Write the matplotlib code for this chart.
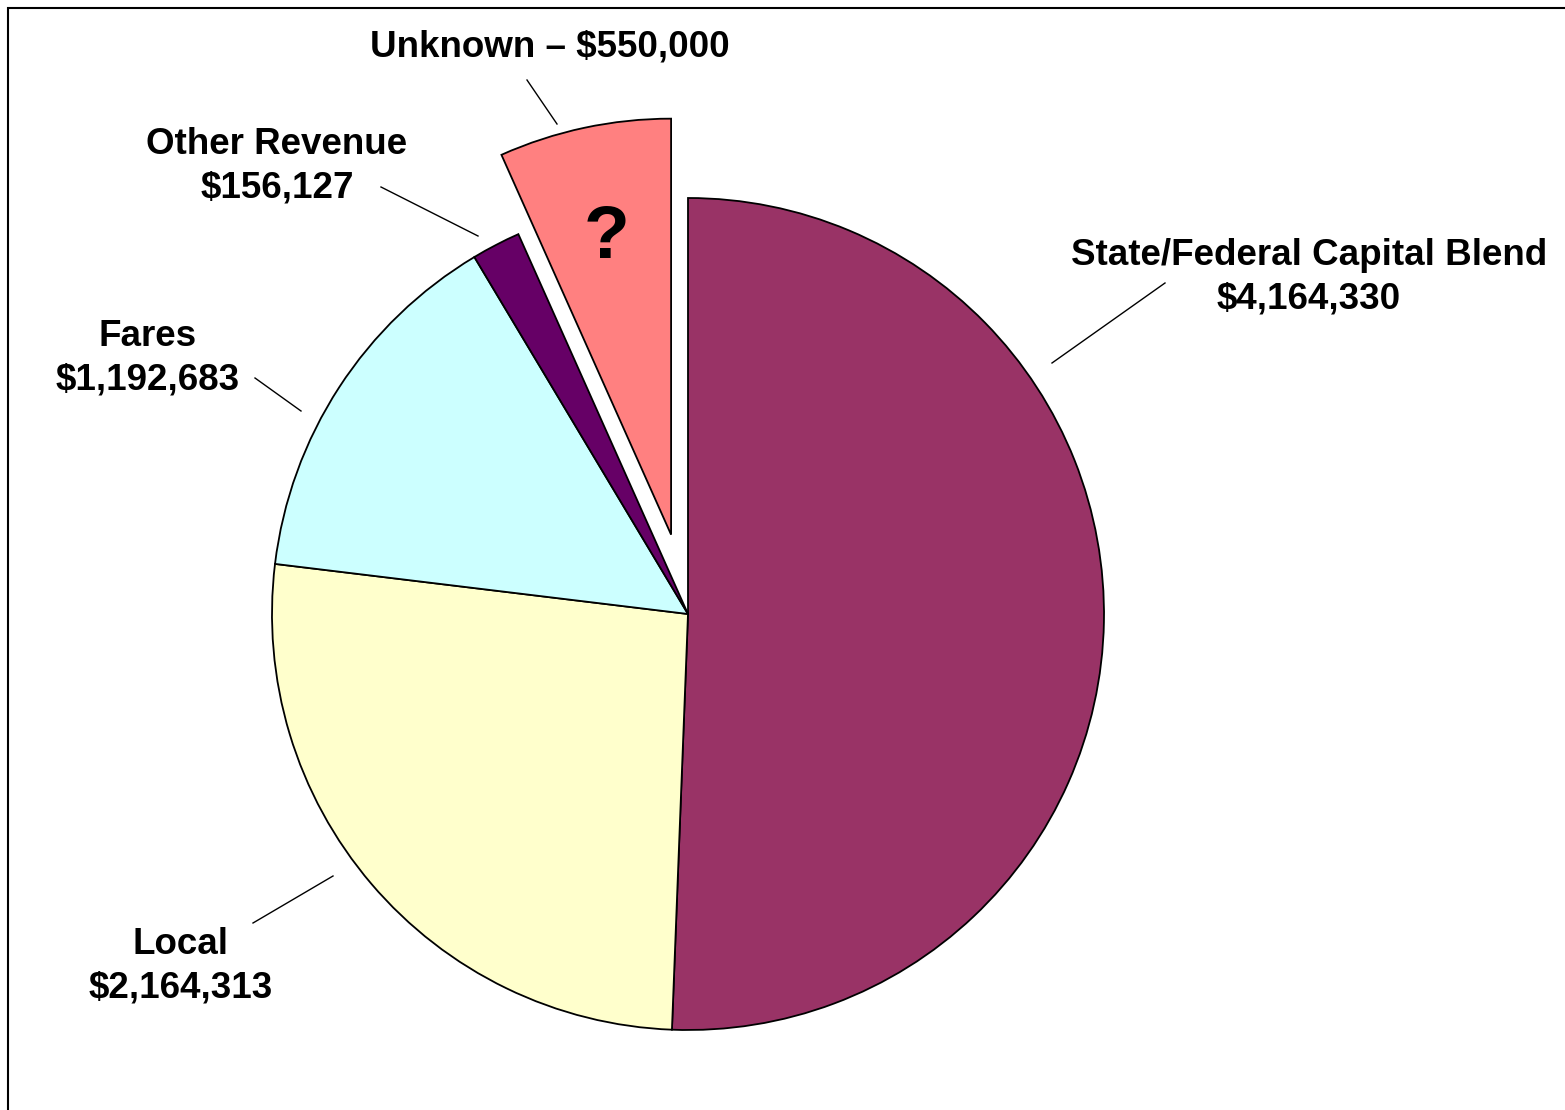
import matplotlib.pyplot as plt
from matplotlib.patches import Rectangle

# Revenue sources (clockwise from 12 o'clock)
categories = ['State/Federal Capital Blend', 'Local', 'Fares', 'Other Revenue', 'Unknown']
amounts = [4164330, 2164313, 1192683, 156127, 550000]
colors = ['#993366', '#FFFFCC', '#CCFFFF', '#660066', '#FF8080']
explode = [0, 0, 0, 0, 0.195]

W, H = 1565, 1110
CX, CY, R = 688, 614, 416  # pie centre / radius in pixels


def px(x, y):
    # pixel position -> data units (1 unit = pie radius)
    return (x - CX) / R, (CY - y) / R


fig = plt.figure(figsize=(W / 100, H / 100), dpi=100)
ax = fig.add_axes([0, 0, 1, 1])
ax.axis('off')

wedges, _ = ax.pie(amounts, colors=colors, explode=explode, startangle=90,
                   counterclock=False, radius=1,
                   wedgeprops=dict(edgecolor='black', linewidth=1.3))
ax.set_xlim(-CX / R, (W - CX) / R)
ax.set_ylim((CY - H) / R, CY / R)

font = dict(family='Liberation Sans', fontweight='bold', fontsize=26.5,
            ha='center', va='center', parse_math=False)

# labels: (text, centre px, leader line px)
labels = [
    ('State/Federal Capital Blend\n$4,164,330', (1309, 277), ((1165, 283), (1052, 363))),
    ('Local\n$2,164,313', (181, 966), ((253, 923), (333, 876))),
    ('Fares\n$1,192,683', (148, 358), ((255, 378), (301, 411))),
    ('Other Revenue\n$156,127', (277, 166), ((381, 187), (478, 236))),
    ('Unknown \u2013 $550,000', (550, 47), ((527, 80), (557, 124))),
]
for txt, (tx, ty), (p0, p1) in labels:
    ax.text(*px(tx, ty), txt, linespacing=1.33, **font)
    a, b = px(*p0), px(*p1)
    ax.plot([a[0], b[0]], [a[1], b[1]], color='black', lw=1)

ax.text(*px(607, 238), '?', family='Liberation Sans', fontweight='bold',
        fontsize=54, ha='center', va='center')

# outer frame (left & top visible)
fig.patches.append(Rectangle((8 / W, -0.05), 1.2, 1.05 - 8 / H,
                             transform=fig.transFigure, fill=False,
                             edgecolor='black', linewidth=1.5))

plt.savefig('out.png', dpi=100, facecolor='white')
